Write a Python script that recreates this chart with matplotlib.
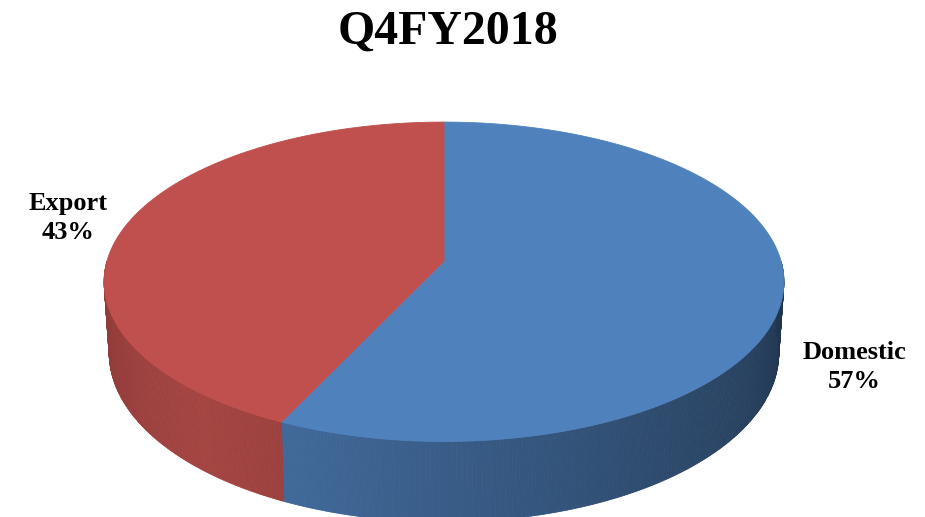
import numpy as np
import matplotlib
matplotlib.use('Agg')
import matplotlib.pyplot as plt
from matplotlib.patches import Polygon

# data
labels = ['Domestic', 'Export']
values = [57, 43]
colors = ['#4f81bd', '#c0504d']
title = 'Q4FY2018'

# pie geometry in pixels, with a little perspective
cx, cy = 444, 261
rx, ry = 337, 157
k = 0.13          # perspective strength
depth = 70
start = 90

fig = plt.figure(figsize=(9.25, 5.17), dpi=100)
ax = fig.add_axes([0, 0, 1, 1])
ax.set_xlim(0, 925)
ax.set_ylim(517, 0)
ax.axis('off')


def edge(t, bottom=False):
    t = np.radians(t)
    p = 1.0 / (1 + k * np.sin(t))
    if bottom:
        return cx + rx * 0.985 * np.cos(t) * p, cy - ry * np.sin(t) * p + depth * p
    return cx + rx * np.cos(t) * p, cy - ry * np.sin(t) * p


def shade(t):
    return np.interp(t, [180, 230, 250, 300, 360], [0.72, 0.86, 0.80, 0.60, 0.40])


total = float(sum(values))
# slices run clockwise from 12 o'clock
spans = []
a = start
for v in values:
    b = a - v / total * 360
    spans.append((b, a))
    a = b

# side walls (front half only)
for (lo, hi), col in zip(spans, colors):
    lo_n = lo % 360
    hi_n = lo_n + (hi - lo)
    rgb = np.array(matplotlib.colors.to_rgb(col))
    for t0 in np.arange(lo_n, hi_n, 0.5):
        t1 = min(t0 + 0.5, hi_n)
        tm = (t0 + t1) / 2 % 360
        if not (180 <= tm <= 360):
            continue
        ts = np.linspace(t0, t1, 3)
        x, y = edge(ts)
        xb, yb = edge(ts, bottom=True)
        pts = np.column_stack([np.r_[x, xb[::-1]], np.r_[y, yb[::-1]]])
        c = rgb * shade(tm)
        ax.add_patch(Polygon(pts, closed=True, facecolor=c, edgecolor=c, lw=0.6))

# top faces
for (lo, hi), col in zip(spans, colors):
    ts = np.linspace(lo, hi, 300)
    x, y = edge(ts)
    pts = np.column_stack([np.r_[cx, x], np.r_[cy, y]])
    ax.add_patch(Polygon(pts, closed=True, facecolor=col, edgecolor=col, lw=0.6))

font = dict(family=['Liberation Serif', 'DejaVu Serif'], fontweight='bold')
ax.text(448, 32, title, ha='center', va='center', fontsize=34.5, **font)
ax.text(854, 367, '%s\n%d%%' % (labels[0], values[0]), ha='center', va='center',
        fontsize=19, linespacing=1.35, **font)
ax.text(68, 218, '%s\n%d%%' % (labels[1], values[1]), ha='center', va='center',
        fontsize=19, linespacing=1.3, **font)

fig.savefig('out.png', dpi=100)
